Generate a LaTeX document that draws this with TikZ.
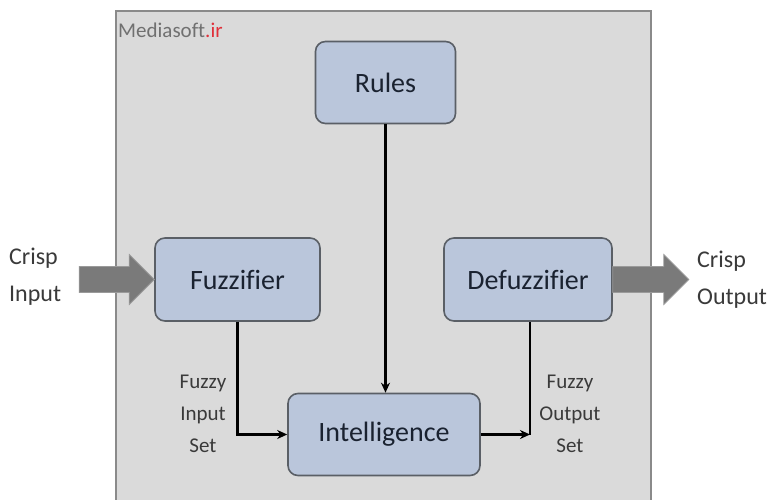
\documentclass[tikz,border=0pt]{standalone}
\usepackage{fontspec}
\setmainfont{Carlito}[Ligatures=CommonOff]
\usetikzlibrary{arrows.meta,calc}
\definecolor{panelgray}{HTML}{DADADA}
\definecolor{paneledge}{HTML}{8A8A8A}
\definecolor{boxfill}{HTML}{BAC6DB}
\definecolor{boxedge}{HTML}{5A5F66}
\definecolor{boxtext}{HTML}{1A2230}
\definecolor{labeltext}{HTML}{3A3A3A}
\definecolor{bigarrow}{HTML}{7A7A7A}
\definecolor{bigarrowedge}{HTML}{9A9A9A}
\definecolor{marktext}{HTML}{707070}
\definecolor{markred}{HTML}{E0303A}
\tikzset{
  block/.style={draw=boxedge, line width=1.6pt, fill=boxfill, rounded corners=10pt,
    font=\fontsize{28}{32}\selectfont, text=boxtext, inner sep=0pt},
  flow/.style={draw=black, line width=2.4pt, -{Stealth[length=10pt,width=9pt]}},
  plainflow/.style={draw=black, line width=2.4pt},
  fat/.style={fill=bigarrow, draw=bigarrowedge, line width=0.8pt},
  sidelabel/.style={font=\fontsize{24}{37}\selectfont, text=labeltext, align=left, inner sep=0pt},
  setlabel/.style={font=\fontsize{21}{32}\selectfont, text=labeltext, align=center, inner sep=0pt}
}
\begin{document}
\begin{tikzpicture}[x=1pt,y=-1pt]
\useasboundingbox (0,0) rectangle (774,500);
% background panel
\fill[white] (0,0) rectangle (774,500);
\draw[fill=panelgray, draw=paneledge, line width=1.2pt] (116,11) rectangle (651,506);
\node[anchor=west, font=\fontsize{21}{24}\selectfont, text=marktext, inner sep=0pt] (mark) at (118,30) {Mediasoft\textcolor{markred}{.ir}};

% blocks
\node[block, minimum width=140pt, minimum height=82pt] (rules) at (385.5,82.5) {Rules};
\node[block, minimum width=165pt, minimum height=83pt] (fuzz) at (237.5,279.5) {Fuzzifier};
\node[block, minimum width=168pt, minimum height=83pt] (defuzz) at (528,279.5) {Defuzzifier};
\node[block, minimum width=192pt, minimum height=82pt] (intel) at (384,434.5) {Intelligence};

% connectors
\draw[flow] (rules.south) -- (rules.south |- intel.north);
\draw[flow] (fuzz.south) |- (intel.west);
\coordinate (fout) at ($(defuzz.south |- intel.east)+(2,0)$);
\draw[flow] (intel.east) -- (fout);
\draw[plainflow] (fout) -- (fout |- defuzz.south);

% crisp input / output block arrows
\draw[fat] (fuzz.west) -- ++(-25,25) -- ++(0,-12) -- ++(-50,0) -- ++(0,-26) -- ++(50,0) -- ++(0,-12) -- cycle;
\draw[fat] ($(defuzz.east)+(0,-13)$) -- ++(51,0) -- ++(0,-12) -- ++(25,25) -- ++(-25,25) -- ++(0,-12) -- ++(-51,0) -- cycle;

% labels
\node[sidelabel, anchor=west] (cin) at (9,277) {Crisp\\Input};
\node[sidelabel, anchor=west] (cout) at (697,280) {Crisp\\Output};
\node[setlabel] (fin) at (203,414) {Fuzzy\\Input\\Set};
\node[setlabel] (fo) at (570,414) {Fuzzy\\Output\\Set};
\end{tikzpicture}
\end{document}
